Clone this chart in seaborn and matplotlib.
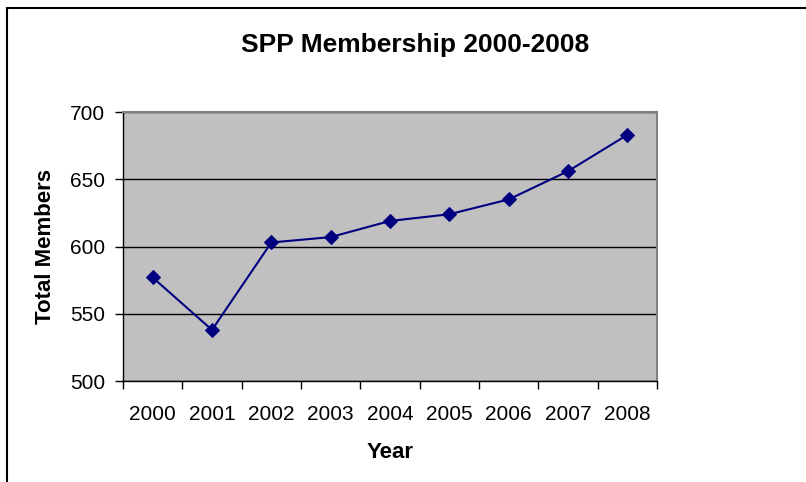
import pandas as pd
import seaborn as sns
import matplotlib.pyplot as plt
from matplotlib.patches import Rectangle
from matplotlib.ticker import FixedLocator

# Data
years = ["2000", "2001", "2002", "2003", "2004", "2005", "2006", "2007", "2008"]
members = [577, 538, 603, 607, 619, 624, 635, 656, 683]
y_ticks = [500, 550, 600, 650, 700]

df = pd.DataFrame({"Year": years, "Total Members": members})

sns.set_style("white", {"xtick.bottom": True, "ytick.left": True})
plt.rcParams["font.family"] = ["Liberation Sans", "DejaVu Sans"]
plt.rcParams["text.color"] = "black"
plt.rcParams["axes.labelcolor"] = "black"
plt.rcParams["xtick.color"] = "black"
plt.rcParams["ytick.color"] = "black"

fig = plt.figure(figsize=(8.06, 4.82), dpi=100)
ax = fig.add_axes([0.1526, 0.2095, 0.8151 - 0.1526, 0.7676 - 0.2095])
ax.set_facecolor("#c0c0c0")

# outer chart border (runs off the right/bottom of the image)
fig.patches.append(Rectangle((7 / 806, -0.1), 1.2, 1 - 8 / 482 + 0.1,
                             transform=fig.transFigure, fill=False,
                             edgecolor="black", linewidth=1.5))

ax.yaxis.grid(True, color="black", linewidth=1)
ax.set_axisbelow(True)

sns.lineplot(data=df, x="Year", y="Total Members", ax=ax, color="#000080",
             linewidth=1.5, marker="D", markersize=7, markeredgecolor="#000080",
             sort=False)

ax.set_xlim(-0.5, len(years) - 0.5)
ax.set_ylim(500, 700)
ax.set_yticks(y_ticks)
ax.set_xticks(range(len(years)))
ax.set_xticklabels(years)
ax.xaxis.set_minor_locator(FixedLocator([i - 0.5 for i in range(len(years) + 1)]))
ax.tick_params(axis="x", which="major", length=0, pad=17, labelsize=15)
ax.tick_params(axis="x", which="minor", length=6, width=1, color="black", direction="out")
ax.tick_params(axis="y", which="major", length=6, width=1, color="black",
               direction="out", labelsize=15, pad=7)

for side in ["top", "right"]:
    ax.spines[side].set_color("#808080")
    ax.spines[side].set_linewidth(1.5)
for side in ["left", "bottom"]:
    ax.spines[side].set_color("black")
    ax.spines[side].set_linewidth(1)

ax.set_xlabel("Year", fontsize=16, fontweight="bold", va="center")
ax.xaxis.set_label_coords(0.5, (381 - 452) / 269)
ax.set_ylabel("Total Members", fontsize=16, fontweight="bold", va="center")
ax.yaxis.set_label_coords((46 - 123) / 534, 0.5)
fig.text(415 / 806, 1 - 45 / 482, "SPP Membership 2000-2008", ha="center", va="center",
         fontsize=19, fontweight="bold")

fig.savefig("out.png", dpi=100)
